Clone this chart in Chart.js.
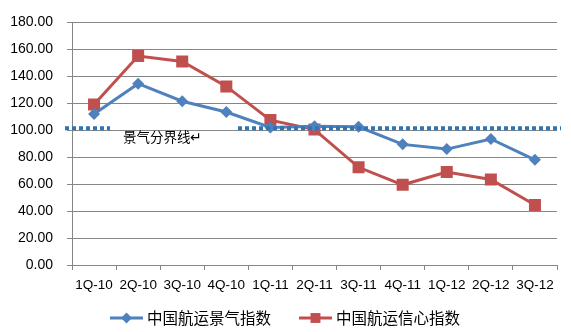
<!DOCTYPE html>
<html>
<head>
<meta charset="utf-8">
<script src="https://cdn.jsdelivr.net/npm/chart.js@4.4.1/dist/chart.umd.min.js"></script>
<style>
  html, body { margin: 0; padding: 0; background: #ffffff; }
  #wrap { width: 571px; height: 332px; position: relative; }
</style>
</head>
<body>
<div id="wrap"><canvas id="c" width="571" height="332"></canvas></div>
<script>
// Quarters
const quarters = ['1Q-10', '2Q-10', '3Q-10', '4Q-10', '1Q-11', '2Q-11', '3Q-11', '4Q-11', '1Q-12', '2Q-12', '3Q-12'];
// 中国航运景气指数
const prosperityIndex = [112.0, 134.5, 121.5, 113.5, 102.0, 103.0, 102.5, 89.5, 86.0, 93.5, 78.0];
// 中国航运信心指数
const confidenceIndex = [119.0, 155.0, 151.0, 132.5, 107.5, 100.5, 72.5, 59.5, 69.0, 63.5, 44.5];
// Boom / bust dividing line
const boomLineValue = 101.5;
const boomLineLabel = '景气分界线\u21B5';
const seriesNames = ['中国航运景气指数', '中国航运信心指数'];
const yTicks = [0, 20, 40, 60, 80, 100, 120, 140, 160, 180];

const BLUE = '#4F81BD';
const RED = '#C0504D';
const GRID = '#868686';
const FONT = '"Liberation Sans", Arial, sans-serif';
const CJK = '"Noto Sans CJK SC", "Liberation Sans", sans-serif';

// Dotted dividing line with an inline caption
const boomLinePlugin = {
  id: 'boomLine',
  afterDatasetsDraw(chart) {
    const { ctx, chartArea, scales } = chart;
    const y = scales.y.getPixelForValue(boomLineValue);
    ctx.save();
    ctx.strokeStyle = '#2E75B6';
    ctx.lineWidth = 4;
    ctx.setLineDash([4, 3]);
    ctx.beginPath();
    ctx.moveTo(chartArea.left - 7, y);
    ctx.lineTo(chartArea.left + 38, y);
    ctx.moveTo(chartArea.left + 166, y);
    ctx.lineTo(chartArea.right + 4, y);
    ctx.stroke();
    ctx.setLineDash([]);
    ctx.fillStyle = '#000000';
    ctx.font = '13.5px ' + CJK;
    ctx.textBaseline = 'middle';
    ctx.textAlign = 'left';
    ctx.fillText(boomLineLabel, chartArea.left + 51, y + 9);
    ctx.restore();
  }
};

// Legend: line sample with marker, then series name
const legendPlugin = {
  id: 'lineLegend',
  afterDraw(chart) {
    const { ctx } = chart;
    const y = 318;
    const items = [
      { x: 110, color: BLUE, style: 'rectRot', r: 5.5, name: seriesNames[0] },
      { x: 299, color: RED, style: 'rect', r: 7, name: seriesNames[1] }
    ];
    ctx.save();
    items.forEach(it => {
      ctx.strokeStyle = it.color;
      ctx.lineWidth = 3;
      ctx.beginPath();
      ctx.moveTo(it.x, y);
      ctx.lineTo(it.x + 33, y);
      ctx.stroke();
      ctx.fillStyle = it.color;
      Chart.helpers.drawPoint(ctx, { pointStyle: it.style, radius: it.r, borderWidth: 0 }, it.x + 16.5, y);
      ctx.fillStyle = '#000000';
      ctx.font = '15.5px ' + CJK;
      ctx.textBaseline = 'middle';
      ctx.textAlign = 'left';
      ctx.fillText(it.name, it.x + 37, y);
    });
    ctx.restore();
  }
};

new Chart(document.getElementById('c'), {
  type: 'line',
  data: {
    labels: quarters,
    datasets: [
      {
        label: seriesNames[0],
        data: prosperityIndex,
        borderColor: BLUE,
        backgroundColor: BLUE,
        borderWidth: 3,
        pointStyle: 'rectRot',
        pointRadius: 6,
        pointBorderWidth: 0,
        tension: 0
      },
      {
        label: seriesNames[1],
        data: confidenceIndex,
        borderColor: RED,
        backgroundColor: RED,
        borderWidth: 3,
        pointStyle: 'rect',
        pointRadius: 8.5,
        pointBorderWidth: 0,
        tension: 0
      }
    ]
  },
  options: {
    responsive: false,
    animation: false,
    devicePixelRatio: 1,
    layout: { padding: { left: 0, right: 14, top: 16, bottom: 37 } },
    plugins: {
      legend: { display: false },
      tooltip: { enabled: false }
    },
    scales: {
      x: {
        offset: true,
        grid: {
          offset: true,
          drawOnChartArea: false,
          drawTicks: true,
          tickLength: 5,
          color: GRID
        },
        border: { color: GRID, width: 1 },
        ticks: {
          color: '#000000',
          font: { family: FONT, size: 13.5 },
          padding: 7,
          maxRotation: 0,
          autoSkip: false
        },
        afterFit(scale) { scale.height = 30; }
      },
      y: {
        min: 0,
        max: 180,
        afterBuildTicks(scale) { scale.ticks = yTicks.map(v => ({ value: v })); },
        grid: {
          color: GRID,
          drawTicks: true,
          tickLength: 5
        },
        border: { color: GRID, width: 1 },
        ticks: {
          color: '#000000',
          font: { family: FONT, size: 14 },
          padding: 14,
          callback: v => Number(v).toFixed(2)
        },
        afterFit(scale) { scale.width = 72; }
      }
    }
  },
  plugins: [boomLinePlugin, legendPlugin]
});
</script>
</body>
</html>
